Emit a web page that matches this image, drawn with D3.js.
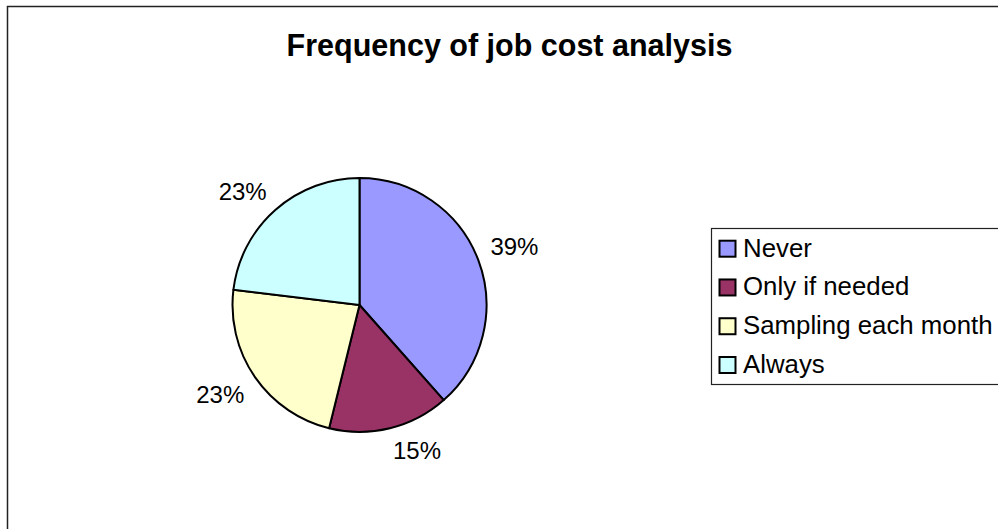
<!DOCTYPE html>
<html>
  <head>
    <title>Frequency of job cost analysis</title>
    <script src="https://d3js.org/d3.v7.min.js"></script>
    <style>
        body { margin: 0; background-color: white; }
        svg { display: block; }
    </style>
  </head>
  <body>
    <svg id="chart_svg" width="998" height="529"></svg>
  </body>
  <script>
    // data (counts out of 13)
    const categories = ["Never", "Only if needed", "Sampling each month", "Always"];
    const counts = [5, 2, 3, 3];
    const pctLabels = ["39%", "15%", "23%", "23%"];
    const colors = ["#9999FF", "#993366", "#FFFFCC", "#CCFFFF"];

    const svg = d3.select("#chart_svg");
    const font = "Arial, 'Liberation Sans', Helvetica, sans-serif";

    // chart area border
    svg.append("rect")
        .attr("x", 7.5).attr("y", 6.5)
        .attr("width", 1200).attr("height", 800)
        .style("fill", "white")
        .style("stroke", "#222")
        .style("stroke-width", 1.5);

    svg.append("text")
        .attr("x", 509.5).attr("y", 56)
        .attr("text-anchor", "middle")
        .attr("font-family", font)
        .attr("font-size", "30.5px")
        .attr("font-weight", "bold")
        .text("Frequency of job cost analysis");

    const cx = 359.5, cy = 305, R = 127;
    const pie = d3.pie().sort(null).value(d => d);
    const arcs = pie(counts);
    const arc = d3.arc().innerRadius(0).outerRadius(R);
    // anchor point for each label, a bit outside the rim
    const labelArc = d3.arc().innerRadius(R + 13).outerRadius(R + 13);

    const g = svg.append("g").attr("transform", `translate(${cx},${cy})`);
    g.selectAll("path")
        .data(arcs)
        .enter()
        .append("path")
        .attr("d", arc)
        .style("fill", (d, i) => colors[i])
        .style("stroke", "black")
        .style("stroke-width", 2)
        .style("stroke-linejoin", "round");

    // label box sits on the outer side of its anchor (Excel style)
    const lh = 18;
    g.selectAll("text.pct")
        .data(arcs)
        .enter()
        .append("text")
        .attr("class", "pct")
        .attr("font-family", font)
        .attr("font-size", "24px")
        .attr("text-anchor", d => labelArc.centroid(d)[0] >= 0 ? "start" : "end")
        .attr("x", d => labelArc.centroid(d)[0])
        .attr("y", d => {
            const p = labelArc.centroid(d);
            return p[1] >= 0 ? p[1] + lh : p[1];
        })
        .text((d, i) => pctLabels[i]);

    // legend
    const legend = svg.append("g");
    legend.append("rect")
        .attr("x", 711.5).attr("y", 228.5)
        .attr("width", 400).attr("height", 156)
        .style("fill", "white")
        .style("stroke", "#222")
        .style("stroke-width", 1.2);

    const ly = d3.scalePoint().domain(categories).range([256.7, 373]);
    const items = legend.selectAll("g.item")
        .data(categories)
        .enter()
        .append("g")
        .attr("class", "item");
    items.append("rect")
        .attr("x", 719.5)
        .attr("y", d => ly(d) - 16)
        .attr("width", 16).attr("height", 16)
        .style("fill", (d, i) => colors[i])
        .style("stroke", "black")
        .style("stroke-width", 2);
    items.append("text")
        .attr("x", 743)
        .attr("y", d => ly(d))
        .attr("font-family", font)
        .attr("font-size", "25.8px")
        .text(d => d);
  </script>
</html>
